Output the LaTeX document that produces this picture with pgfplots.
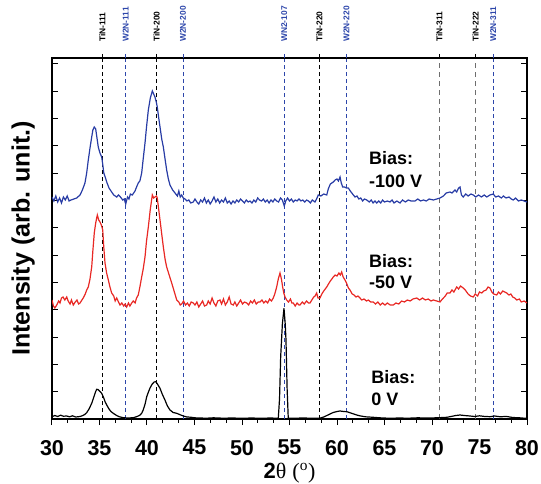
\documentclass[border=0pt]{standalone}
\usepackage{pgfplots}
\usepackage{pgfplotstable}
\pgfplotsset{compat=1.18}
\usepackage{fontspec}
\setmainfont{Liberation Sans}
\newfontfamily\seriffont{Liberation Serif}
\definecolor{cblue}{RGB}{40,60,165}
\definecolor{cred}{RGB}{232,40,36}
\definecolor{lblue}{RGB}{45,70,170}
\definecolor{dgray}{RGB}{110,110,110}
\begin{document}
\pgfplotstableread{
x y
30.00 222
30.20 218
30.40 223
30.60 217
30.80 221
31.00 216
31.20 222
31.40 219
31.60 223
31.80 218
32.00 219
32.30 220
32.60 221
32.95 224
33.20 229
33.47 236
33.65 246
33.82 259
34.00 271
34.18 282
34.30 289
34.45 292
34.60 290
34.75 280
34.87 272
35.05 266
35.23 262
35.35 254
35.45 246
35.60 242
35.76 237
36.00 231
36.28 227
36.50 224
36.81 222
37.00 224
37.20 222
37.45 219
37.60 220
37.76 215
37.95 222
38.10 220
38.25 225
38.45 224
38.74 228
38.90 232
39.08 236
39.25 238
39.44 246
39.60 260
39.79 276
39.95 292
40.14 309
40.35 321
40.56 328
40.70 325
40.84 322
41.00 316
41.08 312
41.25 300
41.37 292
41.55 280
41.72 272
41.90 260
42.07 249
42.25 240
42.42 234
42.70 229
42.95 226
43.20 223
43.35 228
43.50 222
43.65 224
43.82 221
44.00 220
44.20 218
44.40 219
44.60 216
44.87 217
45.05 220
45.25 217
45.45 215
45.65 219
45.85 217
46.05 221
46.25 216
46.45 219
46.65 215
46.85 218
47.05 222
47.25 217
47.45 220
47.65 216
47.85 219
48.05 217
48.25 221
48.45 216
48.65 218
48.85 215
49.05 218
49.25 216
49.45 219
49.65 217
49.85 220
50.05 218
50.25 216
50.45 219
50.65 217
50.85 218
51.05 216
51.25 219
51.45 217
51.65 221
51.85 219
52.05 218
52.25 220
52.45 217
52.65 219
52.85 216
53.05 219
53.25 217
53.45 220
53.65 218
53.85 217
54.05 221
54.25 219
54.45 213
54.60 218
54.80 221
55.00 218
55.20 220
55.40 217
55.60 219
55.80 218
56.00 220
56.20 218
56.40 219
56.60 217
56.80 219
57.00 218
57.20 216
57.40 219
57.68 217
57.85 220
58.03 224
58.30 223
58.60 225
58.92 224
59.08 230
59.30 235
59.61 237
59.80 239
60.00 240
60.15 238
60.32 242
60.45 236
60.60 232
60.80 232
61.00 231
61.19 231
61.40 228
61.72 224
61.90 222
62.10 223
62.30 220
62.50 221
62.70 218
62.90 220
63.13 219
63.40 217
63.60 219
63.80 216
64.00 218
64.18 216
64.40 218
64.60 216
64.80 219
65.00 217
65.30 218
65.58 217
65.80 219
66.00 216
66.30 218
66.63 216
66.90 219
67.20 217
67.50 219
67.80 218
68.21 218
68.50 220
68.80 218
69.10 219
69.40 218
69.70 220
70.14 219
70.50 220
70.84 221
71.20 223
71.50 226
71.89 227
72.10 226
72.42 229
72.60 227
72.80 231
72.95 232
73.10 224
73.29 222
73.55 225
73.80 223
74.10 225
74.35 224
74.60 222
74.90 224
75.20 222
75.50 224
75.76 222
76.10 224
76.45 225
76.70 222
77.00 223
77.30 221
77.51 223
77.80 221
78.10 222
78.35 220
78.56 219
78.80 221
79.10 218
79.40 219
79.70 218
80.00 217
}\bluedata
\pgfplotstableread{
x y
30.00 119
30.15 113
30.30 111
30.50 114
30.70 118
30.84 116
31.00 121
31.16 122
31.35 119
31.55 122
31.70 118
31.90 115
32.05 119
32.24 114
32.45 117
32.63 119
32.80 115
32.95 116
33.15 119
33.29 121
33.50 125
33.65 129
33.82 132
34.00 140
34.18 152
34.30 168
34.45 186
34.60 196
34.77 204
34.92 199
35.05 197
35.20 194
35.34 189
35.45 172
35.58 156
35.75 146
35.93 139
36.10 132
36.28 126
36.50 123
36.65 118
36.81 121
37.00 117
37.16 114
37.35 116
37.55 113
37.70 115
37.86 112
38.05 116
38.20 113
38.39 116
38.55 118
38.75 116
38.90 121
39.08 124
39.25 132
39.44 142
39.60 150
39.79 162
39.95 178
40.14 192
40.35 210
40.56 224
40.70 221
40.84 222
41.00 223
41.08 221
41.20 212
41.37 199
41.55 185
41.72 172
41.90 160
42.07 152
42.30 145
42.60 136
42.85 128
43.13 119
43.35 117
43.50 114
43.65 115
43.85 118
44.05 114
44.25 116
44.45 113
44.65 117
44.87 116
45.05 114
45.25 117
45.45 112
45.65 115
45.85 118
46.05 113
46.28 114
46.45 118
46.65 115
46.85 121
47.05 116
47.25 113
47.45 118
47.68 119
47.85 115
48.05 120
48.25 114
48.45 117
48.65 122
48.85 115
49.08 114
49.25 117
49.45 113
49.65 116
49.85 119
50.05 115
50.25 117
50.50 116
50.70 114
50.90 118
51.10 116
51.30 119
51.50 115
51.70 117
51.89 117
52.10 119
52.30 116
52.50 118
52.70 116
52.90 120
53.10 118
53.29 121
53.45 125
53.65 132
53.82 140
54.00 146
54.15 140
54.28 132
54.40 126
54.53 122
54.70 119
54.90 117
55.10 120
55.25 116
55.40 116
55.60 113
55.80 116
56.00 114
56.10 114
56.35 117
56.55 115
56.80 118
57.00 116
57.16 116
57.35 119
57.55 122
57.70 123
57.86 126
58.00 121
58.21 121
58.40 125
58.60 128
58.92 132
59.10 135
59.30 138
59.61 142
59.80 144
60.00 143
60.20 146
60.35 144
60.49 147
60.65 142
60.84 139
61.00 136
61.20 131
61.37 129
61.60 125
61.80 124
62.00 122
62.20 123
62.42 121
62.60 119
62.85 120
63.10 118
63.30 119
63.55 117
63.82 117
64.05 115
64.30 117
64.55 114
64.80 116
65.05 114
65.30 116
65.60 114
65.93 114
66.20 116
66.50 115
66.80 118
67.10 117
67.40 119
67.70 118
68.00 120
68.39 121
68.70 119
69.00 121
69.30 119
69.60 120
69.90 118
70.14 119
70.50 118
70.84 117
71.10 120
71.40 123
71.60 126
71.89 126
72.10 129
72.30 127
72.60 132
72.80 130
73.00 133
73.29 131
73.50 129
73.80 125
74.05 123
74.35 122
74.55 125
74.80 123
75.00 127
75.23 126
75.45 128
75.70 129
75.90 132
76.10 131
76.30 127
76.50 125
76.81 124
77.00 127
77.20 125
77.45 128
77.65 127
77.86 126
78.10 124
78.30 125
78.50 122
78.70 121
78.92 119
79.20 120
79.40 117
79.70 118
80.00 116
}\reddata
\pgfplotstableread{
x y
30.00 2.3
30.30 3.5
30.60 2.5
30.90 3.8
31.20 2.8
31.55 3.0
31.85 2.2
32.15 3.2
32.50 2.0
32.95 2.5
33.25 3.5
33.45 4.5
33.65 6.3
33.90 10
34.18 15.7
34.40 22
34.60 27.5
34.71 29.7
34.85 29.5
35.00 28
35.23 25.7
35.45 21
35.60 17
35.76 14
36.00 10
36.20 7.5
36.45 5.7
36.80 3.5
37.10 2.2
37.50 1.3
38.00 1.0
38.56 1.3
38.90 2.3
39.20 3.5
39.44 5.7
39.60 9
39.80 15
39.97 22.3
40.15 27
40.32 31
40.55 35
40.75 37
40.92 37.3
41.10 35
41.37 30.7
41.60 25
41.89 19
42.15 13
42.42 9
42.75 6.5
43.13 5.7
43.50 4.2
43.82 3.0
44.20 2.0
44.60 1.8
45.00 1.2
45.50 1.0
46.28 0.8
47.00 1.2
48.00 0.8
49.00 1.0
50.00 0.7
51.00 1.0
52.00 0.7
53.00 1.0
53.82 0.7
53.95 20
54.07 62
54.25 95
54.42 110.7
54.55 95
54.63 79
54.75 30
54.87 0.7
55.50 0.8
56.50 1.0
57.50 0.7
58.21 0.9
58.60 2.0
59.00 3.8
59.26 5.0
59.60 6.5
60.00 7.5
60.32 8.0
60.70 7.5
61.02 7.3
61.30 6.5
61.60 5.5
62.07 4.0
62.50 3.0
63.00 2.2
63.82 1.7
64.50 1.2
65.58 0.7
66.50 1.0
67.50 0.8
68.50 1.2
69.50 1.0
70.50 1.2
71.55 1.7
72.00 2.5
72.50 3.5
72.95 4.0
73.40 3.5
74.00 3.0
74.50 2.5
75.00 3.2
75.50 2.6
76.10 2.3
76.60 3.0
77.20 2.2
77.80 2.6
78.50 1.5
79.20 1.2
79.86 0.7
80.00 0.7
}\blackdata
\begin{tikzpicture}
\useasboundingbox (-52pt,-64pt) rectangle (489pt,419pt);
\begin{axis}[
  at={(0,0)}, anchor=south west,
  scale only axis, width=475pt, height=361pt,
  xmin=30, xmax=80, ymin=0, ymax=361,
  xtick={30,35,...,80}, minor x tick num=2,
  xtick pos=left,
  ytick={0,27.33,...,356}, yticklabels={},
  xtick align=outside, ytick align=inside,
  major tick length=6pt, minor tick length=3.5pt,
  tick style={black, line width=1pt},
  axis line style={line width=1.2pt},
  /pgf/number format/assume math mode=true,
  xticklabel style={font=\bfseries\fontsize{21.5}{24}\selectfont, inner sep=0pt},
  xticklabel shift=15pt,
  xlabel={\bfseries 2{\seriffont\mdseries θ} {\seriffont\mdseries(\textsuperscript{o})}},
  xlabel style={at={(axis description cs:0.5,0)}, anchor=base, yshift=-59pt, inner sep=0pt, font=\fontsize{22}{24}\selectfont},
  ylabel={Intensity (arb. unit.)},
  ylabel style={at={(axis description cs:-0.0358,0.5)}, anchor=south, rotate=0, inner sep=0pt, font=\bfseries\fontsize{25}{28}\selectfont},
]
\addplot[black, line width=0.8pt, dash pattern=on 4pt off 3pt] coordinates {(35.3,0) (35.3,361)};
\addplot[black, line width=0.8pt, dash pattern=on 4pt off 3pt] coordinates {(41.0,0) (41.0,361)};
\addplot[black, line width=0.8pt, dash pattern=on 4pt off 3pt] coordinates {(58.14,0) (58.14,361)};
\addplot[dgray, line width=1.3pt, dash pattern=on 5pt off 4pt] coordinates {(70.77,0) (70.77,361)};
\addplot[dgray, line width=1.3pt, dash pattern=on 5pt off 4pt] coordinates {(74.6,0) (74.6,361)};
\addplot[lblue, line width=0.8pt, dash pattern=on 4pt off 3pt] coordinates {(37.76,0) (37.76,361)};
\addplot[lblue, line width=0.8pt, dash pattern=on 4pt off 3pt] coordinates {(43.8,0) (43.8,361)};
\addplot[lblue, line width=0.8pt, dash pattern=on 4pt off 3pt] coordinates {(54.45,0) (54.45,361)};
\addplot[lblue, line width=0.8pt, dash pattern=on 4pt off 3pt] coordinates {(61.0,0) (61.0,361)};
\addplot[lblue, line width=0.8pt, dash pattern=on 4pt off 3pt] coordinates {(76.45,0) (76.45,361)};
\addplot[cblue, line width=1.2pt] table {\bluedata};
\addplot[cred, line width=1.2pt] table {\reddata};
\addplot[black, line width=1.2pt] table {\blackdata};
\node[anchor=base west, inner sep=0pt, font=\bfseries\fontsize{18}{20}\selectfont] at (axis cs:63.37,255) {Bias:};
\node[anchor=base west, inner sep=0pt, font=\bfseries\fontsize{18}{20}\selectfont] at (axis cs:63.37,232) {-100 V};
\node[anchor=base west, inner sep=0pt, font=\bfseries\fontsize{18}{20}\selectfont] at (axis cs:63.37,152) {Bias:};
\node[anchor=base west, inner sep=0pt, font=\bfseries\fontsize{18}{20}\selectfont] at (axis cs:63.37,131) {-50 V};
\node[anchor=base west, inner sep=0pt, font=\bfseries\fontsize{18}{20}\selectfont] at (axis cs:63.6,36) {Bias:};
\node[anchor=base west, inner sep=0pt, font=\bfseries\fontsize{18}{20}\selectfont] at (axis cs:63.6,14) {0 V};
\end{axis}
\begin{axis}[
  at={(0,0)}, anchor=south west,
  scale only axis, width=475pt, height=361pt,
  xmin=30, xmax=80, ymin=0, ymax=361,
  axis x line*=top, hide y axis,
  axis line style={-, line width=1.2pt},
  xtick={35.3,41.0,58.14,70.77,74.6},
  xticklabels={TiN-111,TiN-200,TiN-220,TiN-311,TiN-222},
  extra x ticks={37.76,43.8,54.45,61.0,76.45},
  extra x tick labels={W2N-111,W2N-200,WN2-107,W2N-220,W2N-311},
  extra x tick style={tick style={lblue}, tick label style={text=lblue}},
  tick align=outside, major tick length=4pt,
  tick style={black, line width=0.8pt},
  minor x tick num=0,
  xticklabel style={rotate=90, anchor=west, inner sep=0pt, font=\bfseries\fontsize{8.4}{9}\selectfont},
  xticklabel shift=12pt,
]
\addplot[draw=none] coordinates {(30,0) (80,361)};
\end{axis}
\end{tikzpicture}
\end{document}
